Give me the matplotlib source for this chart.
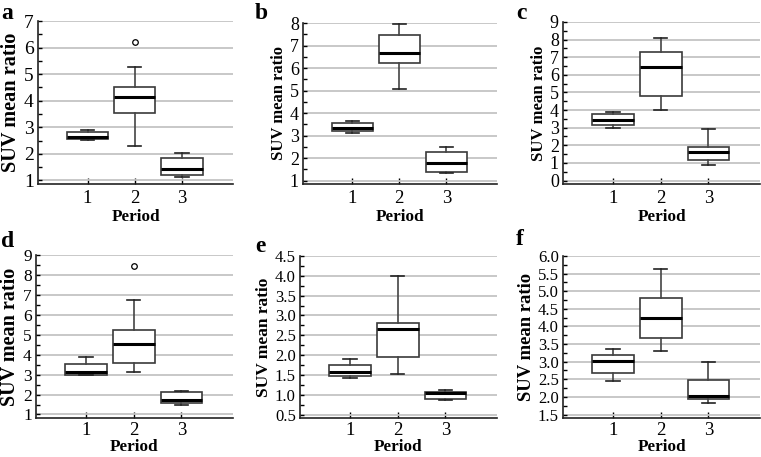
import numpy as np
import matplotlib
matplotlib.use("Agg")
import matplotlib.pyplot as plt
from matplotlib.ticker import MultipleLocator, FormatStrFormatter

plt.rcParams["font.family"] = ["Liberation Serif", "DejaVu Serif"]

# values, one row per panel (a..f), one column per period
panels = ["a", "b", "c", "d", "e", "f"]
periods = [1, 2, 3]
whisker_low = [[2.52, 2.28, 1.15],
               [3.10, 5.05, 1.35],
               [2.98, 4.02, 0.88],
               [2.98, 3.15, 1.50],
               [1.43, 1.52, 0.87],
               [2.45, 3.30, 1.82]]
q1 = [[2.55, 3.55, 1.20],
      [3.18, 6.22, 1.40],
      [3.15, 4.80, 1.15],
      [3.00, 3.57, 1.60],
      [1.46, 1.95, 0.90],
      [2.68, 3.68, 1.93]]
median = [[2.65, 4.15, 1.45],
          [3.35, 6.65, 1.80],
          [3.45, 6.45, 1.60],
          [3.15, 4.52, 1.75],
          [1.57, 2.65, 1.04],
          [3.03, 4.25, 2.03]]
q3 = [[2.83, 4.52, 1.85],
      [3.57, 7.47, 2.25],
      [3.78, 7.28, 1.88],
      [3.55, 5.26, 2.12],
      [1.75, 2.82, 1.06],
      [3.20, 4.82, 2.48]]
whisker_high = [[2.90, 5.28, 2.05],
                [3.65, 7.95, 2.50],
                [3.88, 8.10, 2.92],
                [3.90, 6.76, 2.20],
                [1.90, 4.00, 1.12],
                [3.37, 5.62, 3.00]]
outliers = [[[], [6.22], []],
            [[], [], []],
            [[], [], []],
            [[], [8.45], []],
            [[], [], []],
            [[], [], []]]
y_first = [1, 1, 0, 1, 0.5, 1.5]
y_last = [7, 8, 9, 9, 4.5, 6.0]
y_step = [1, 1, 1, 1, 0.5, 0.5]
y_fmt = ["%d", "%d", "%d", "%d", "%.1f", "%.1f"]

W, H = 761, 457
fig = plt.figure(figsize=(W / 100, H / 100), dpi=100)

# axes boxes in pixels: left, top, right, bottom
boxes_px = [(38, 21, 233, 184), (303, 23, 497, 184), (563, 22, 760, 184),
            (36, 255, 233, 418), (300, 256, 497, 418), (563, 256, 760, 418)]
letter_px = [(1, 3), (255, 3), (516, 3), (1, 231), (255, 236), (516, 229)]
# the panels were scaled unevenly in the source, so text sizes differ a bit
tick_size = [14, 13, 13, 12.5, 12, 12]
ylab_size = [14.6, 12.0, 12.1, 14.5, 12.5, 13.4]

for i, p in enumerate(panels):
    l, t, r, b = boxes_px[i]
    ax = fig.add_axes([l / W, 1 - b / H, (r - l) / W, (b - t) / H])

    stats = []
    for j in range(3):
        stats.append(dict(med=median[i][j], q1=q1[i][j], q3=q3[i][j],
                          whislo=whisker_low[i][j], whishi=whisker_high[i][j],
                          fliers=outliers[i][j]))
    ax.bxp(stats, positions=periods, widths=0.87, patch_artist=True,
           boxprops=dict(facecolor="white", edgecolor="#3a3a3a", linewidth=1.2),
           medianprops=dict(color="black", linewidth=2.2),
           whiskerprops=dict(color="#444444", linewidth=1.2),
           capprops=dict(color="#222222", linewidth=1.2),
           capwidths=0.28,
           flierprops=dict(marker="o", markersize=4, markerfacecolor="white",
                           markeredgecolor="black", markeredgewidth=0.9))

    span = y_last[i] - y_first[i]
    ax.set_ylim(y_first[i] - 0.022 * span, y_last[i])
    ax.set_xlim(-0.05, 4.08)
    ax.yaxis.set_major_locator(MultipleLocator(y_step[i]))
    ax.yaxis.set_minor_locator(MultipleLocator(y_step[i] / 2))
    ax.yaxis.set_major_formatter(FormatStrFormatter(y_fmt[i]))
    ax.set_xticks(periods)
    ax.set_xticklabels([str(v) for v in periods])

    ax.grid(axis="y", which="major", color="#c4c4c4", linewidth=1.3)
    ax.set_axisbelow(True)
    for s in ["top", "right"]:
        ax.spines[s].set_visible(False)
    for s in ["left", "bottom"]:
        ax.spines[s].set_linewidth(1.2)
        ax.spines[s].set_color("#222222")
    ax.tick_params(axis="y", which="both", direction="in", length=3, width=1,
                   labelsize=tick_size[i], pad=3)
    ax.tick_params(axis="x", which="both", direction="in", length=4, width=1,
                   labelsize=13.5, pad=3 if i >= 3 else 4)
    ax.set_ylabel("SUV mean ratio", fontsize=ylab_size[i], fontweight="bold",
                  labelpad=2)
    ax.set_xlabel("Period", fontsize=12.3, fontweight="bold",
                  labelpad=0 if i >= 3 else 2)

    fig.text(letter_px[i][0] / W, 1 - letter_px[i][1] / H, p, fontsize=17,
             fontweight="bold", ha="left", va="top")

fig.savefig("out.png", dpi=100)
